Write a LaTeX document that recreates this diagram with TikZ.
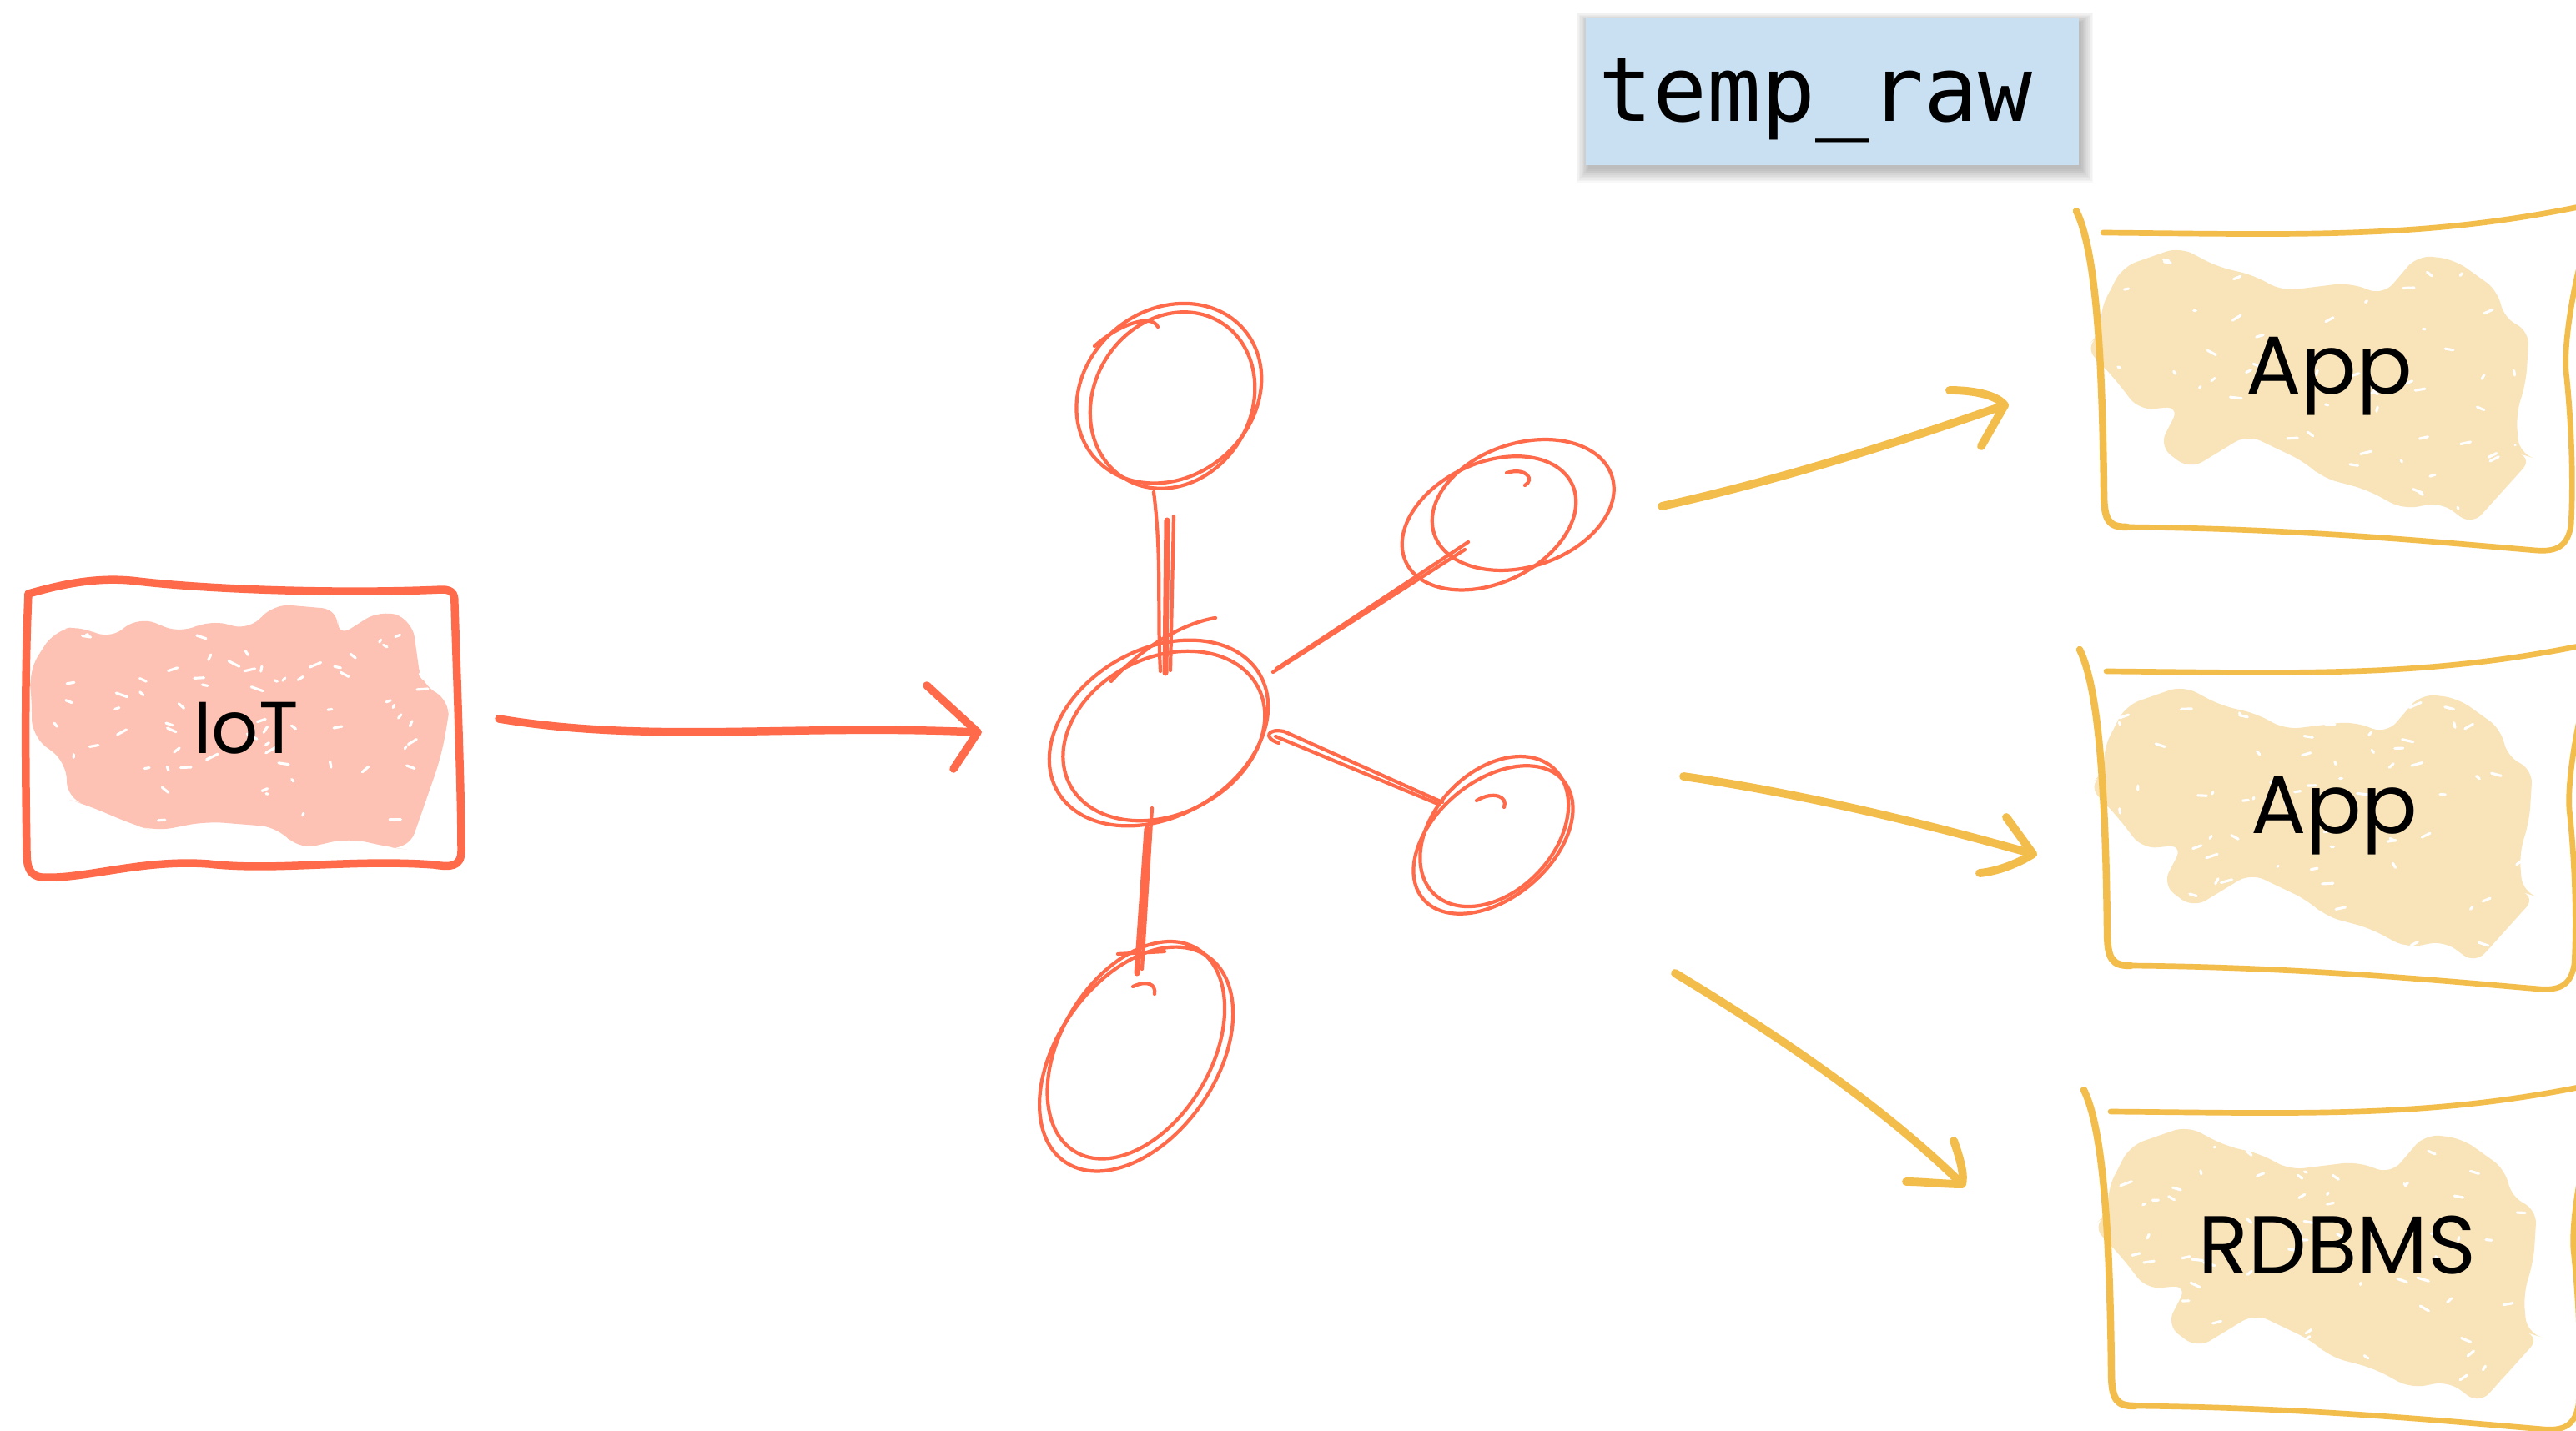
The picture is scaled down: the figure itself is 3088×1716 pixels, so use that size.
\documentclass[tikz,border=0pt]{standalone}
\usepackage{fontspec}
\newfontfamily\monof{DejaVu Sans Mono}
\newfontfamily\handf{Poppins}
\usetikzlibrary{calc}
\definecolor{redc}{HTML}{FF6A4A}
\definecolor{salmon}{HTML}{FDC2B3}
\definecolor{yel}{HTML}{F3BD4C}
\definecolor{yelfill}{HTML}{F9E3B8}
\definecolor{topicblue}{HTML}{C9DFF2}
\begin{document}
\begin{tikzpicture}[x=0.01cm,y=-0.01cm,line cap=round,line join=round,
  redline/.style={draw=redc,line width=1.2pt},
  redthick/.style={draw=redc,line width=2.7pt},
  yelline/.style={draw=yel,line width=1.9pt},
  yelleft/.style={draw=yel,line width=2.4pt},
  yelarrow/.style={draw=yel,line width=2.8pt},
  handtxt/.style={font=\handf\fontsize{28pt}{30pt}\selectfont,text=black,inner sep=0pt},
  fleck/.style={white,line width=0.9pt}]
\useasboundingbox (0,0) rectangle (3088,1716);
\fill[white] (0,0) rectangle (3088,1716);

% ---------- topic box ----------
\foreach \i in {0,...,9}{
  \fill[black,opacity=0.028] ({1904-1.6*\i},{26-1.2*\i}) rectangle ({2495+1.6*\i},{203+1.8*\i});
}
\node[fill=topicblue,minimum width=5.91cm,minimum height=1.77cm,inner sep=0pt,anchor=north west] (topicbox) at (1900,20) {};
\node[font=\monof\fontsize{30.7pt}{32pt}\selectfont,inner sep=0pt,anchor=base west] (topic) at (1916,146) {temp\_raw};

% ---------- IoT box ----------
\pgfmathsetseed{11}
\fill[salmon,rounded corners=6pt] (34,805) -- (65,756) -- (99,750) -- (129,768) -- (167,739) -- (217,760) -- (251,743) -- (300,756) -- (327,724) -- (407,731) -- (403,765) -- (456,731) -- (494,743) -- (505,822) -- (540,839) -- (536,870) -- (528,910) -- (490,1019) -- (467,1016) -- (418,1005) -- (357,1019) -- (334,992) -- (247,985) -- (186,997) -- (160,989) -- (103,965) -- (80,958) -- (80,914) -- (38,883) -- (38,833) -- cycle;
\foreach \k in {1,...,70}{
  \pgfmathsetmacro{\fx}{60+460*rnd}
  \pgfmathsetmacro{\fy}{760+230*rnd}
  \draw[fleck] (\fx,\fy) -- ++({14*rand},{7*rand});
}
\draw[redthick] (34,712) .. controls (60,705) and (110,690) .. (165,697) .. controls (260,708) and (420,712) .. (530,707) .. controls (545,707) and (545,715) .. (545,725) .. controls (548,820) and (553,950) .. (553,1020) .. controls (553,1040) and (540,1040) .. (520,1037) .. controls (420,1030) and (330,1045) .. (250,1036) .. controls (170,1030) and (100,1055) .. (50,1052) .. controls (35,1050) and (32,1040) .. (32,1020) .. controls (30,900) and (30,800) .. cycle;
\node[handtxt,font=\handf\fontsize{25pt}{27pt}\selectfont,anchor=base] (iot) at (295,904) {IoT};

% ---------- arrow IoT -> cluster ----------
\coordinate (a1s) at (598,862);
\coordinate (a1e) at (1172,878);
\draw[redthick] (a1s) .. controls (780,892) and (950,868) .. (a1e);
\draw[redthick] (1111,822) -- (a1e) -- (1143,922);

% ---------- cluster ----------
\coordinate (n1) at (1403,469);
\coordinate (n2) at (1389,879);
\coordinate (n3) at (1800,617);
\coordinate (n4) at (1790,1007);
\coordinate (n5) at (1363,1267);

\draw[redline,rotate around={40:($(n1)+(-3,1)$)}] ($(n1)+(-3,1)$) ellipse [x radius=118,y radius=100];
\draw[redline,rotate around={58:($(n1)+(-8,8)$)}] ($(n1)+(-8,8)$) ellipse [x radius=110,y radius=94];
\draw[redline] (1312,415) .. controls (1340,390) and (1380,375) .. (1388,392);

\draw[redline,rotate around={30:(n2)}] (n2) ellipse [x radius=140,y radius=100];
\draw[redline,rotate around={27:($(n2)+(4,6)$)}] ($(n2)+(4,6)$) ellipse [x radius=127,y radius=94];
\draw[redline] (1332,817) .. controls (1380,765) and (1430,745) .. (1457,741);

\draw[redline,rotate around={25:($(n3)+(-18,3)$)}] ($(n3)+(-18,3)$) ellipse [x radius=110,y radius=72];
\draw[redline,rotate around={18:($(n3)+(28,-3)$)}] ($(n3)+(28,-3)$) ellipse [x radius=112,y radius=74];
\draw[redline] (1806,567) .. controls (1830,560) and (1840,575) .. (1828,582);

\draw[redline,rotate around={40:(n4)}] (n4) ellipse [x radius=110,y radius=70];
\draw[redline,rotate around={46:($(n4)+(8,-6)$)}] ($(n4)+(8,-6)$) ellipse [x radius=104,y radius=72];
\draw[redline] (1770,960) .. controls (1790,948) and (1808,955) .. (1803,968);

\draw[redline,rotate around={55:($(n5)+(-3,1)$)}] ($(n5)+(-3,1)$) ellipse [x radius=150,y radius=95];
\draw[redline,rotate around={59:($(n5)+(6,-5)$)}] ($(n5)+(6,-5)$) ellipse [x radius=142,y radius=90];
\draw[redline] (1358,1183) .. controls (1375,1175) and (1386,1180) .. (1384,1192);

% connectors inside cluster
\draw[redline] ($(n1)+(-20,121)$) .. controls ($(n1)+(-10,200)$) and ($(n2)+(-2,-150)$) .. ($(n2)+(2,-74)$);
\draw[redline,line width=2pt] ($(n1)+(-4,155)$) -- ($(n2)+(8,-72)$);
\draw[redline] ($(n1)+(4,150)$) -- ($(n2)+(14,-75)$);
\draw[redline] ($(n2)+(137,-73)$) -- ($(n3)+(-44,42)$);
\draw[redline] ($(n2)+(141,-77)$) -- ($(n3)+(-40,33)$);
\draw[redline] ($(n2)+(144,12)$) .. controls ($(n2)+(125,6)$) and ($(n2)+(130,-6)$) .. ($(n2)+(150,-2)$) -- ($(n4)+(-61,-45)$);
\draw[redline] ($(n2)+(140,4)$) -- ($(n4)+(-64,-42)$);
\draw[redline] ($(n2)+(-8,90)$) -- ($(n5)+(6,-105)$);
\draw[redline,line width=2pt] ($(n2)+(-14,115)$) -- ($(n5)+(0,-100)$);
\draw[redline] (1340,1144) -- (1396,1141);

% ---------- yellow arrows ----------
\coordinate (y1s) at (1992,607);
\coordinate (y1e) at (2403,486);
\draw[yelarrow] (y1s) .. controls (2150,572) and (2300,522) .. (y1e);
\draw[yelarrow] (2337,468) .. controls (2370,468) and (2395,475) .. (y1e) -- (2375,535);

\coordinate (y2s) at (2018,931);
\coordinate (y2e) at (2437,1024);
\draw[yelarrow] (y2s) .. controls (2150,950) and (2300,985) .. (y2e);
\draw[yelarrow] (2405,980) -- (y2e) .. controls (2420,1035) and (2395,1045) .. (2373,1047);

\coordinate (y3s) at (2008,1167);
\coordinate (y3e) at (2352,1420);
\draw[yelarrow] (y3s) .. controls (2120,1235) and (2250,1320) .. (y3e);
\draw[yelarrow] (2342,1368) .. controls (2350,1390) and (2355,1410) .. (y3e) .. controls (2330,1420) and (2305,1417) .. (2285,1417);

% ---------- yellow boxes ----------
\foreach \dx/\dy/\nm in {0/0/b1,4/526/b2,9/1054/b3}{
  \begin{scope}[shift={(\dx,\dy)}]
    \fill[yelfill,rounded corners=5pt] (2517,373) -- (2544,320) -- (2613,296) -- (2658,320) -- (2702,330) -- (2735,349) -- (2816,339) -- (2857,354) -- (2898,306) -- (2942,311) -- (2995,349) -- (3001,382) -- (3032,396) -- (3028,459) -- (3016,497) -- (3020,544) -- (3036,549) -- (2963,630) -- (2926,602) -- (2881,611) -- (2837,587) -- (2784,573) -- (2763,554) -- (2694,521) -- (2625,563) -- (2588,535) -- (2613,487) -- (2564,492) -- (2535,454) -- (2499,416) -- (2519,401) -- cycle;
    \foreach \k in {1,...,70}{
      \pgfmathsetmacro{\fx}{2520+500*rnd}
      \pgfmathsetmacro{\fy}{310+300*rnd}
      \draw[fleck] (\fx,\fy) -- ++({14*rand},{6*rand});
    }
    \draw[yelleft] (2489,253) .. controls (2512,300) and (2520,420) .. (2522,590) .. controls (2522,625) and (2528,632) .. (2550,632);
    \draw[yelline] (2550,632) .. controls (2750,634) and (2900,648) .. (3040,660) .. controls (3065,662) and (3078,655) .. (3082,630) .. controls (3086,560) and (3080,480) .. (3076,445) .. controls (3074,420) and (3080,370) .. (3092,320);
    \draw[yelline] (2521,279) .. controls (2750,281) and (2900,287) .. (3092,248);
  \end{scope}
}
\node[handtxt,anchor=base] (app1) at (2792,473) {App};
\node[handtxt,anchor=base] (app2) at (2798,999) {App};
\node[handtxt,anchor=base] (rdbms) at (2802,1527) {RDBMS};
\end{tikzpicture}
\end{document}
